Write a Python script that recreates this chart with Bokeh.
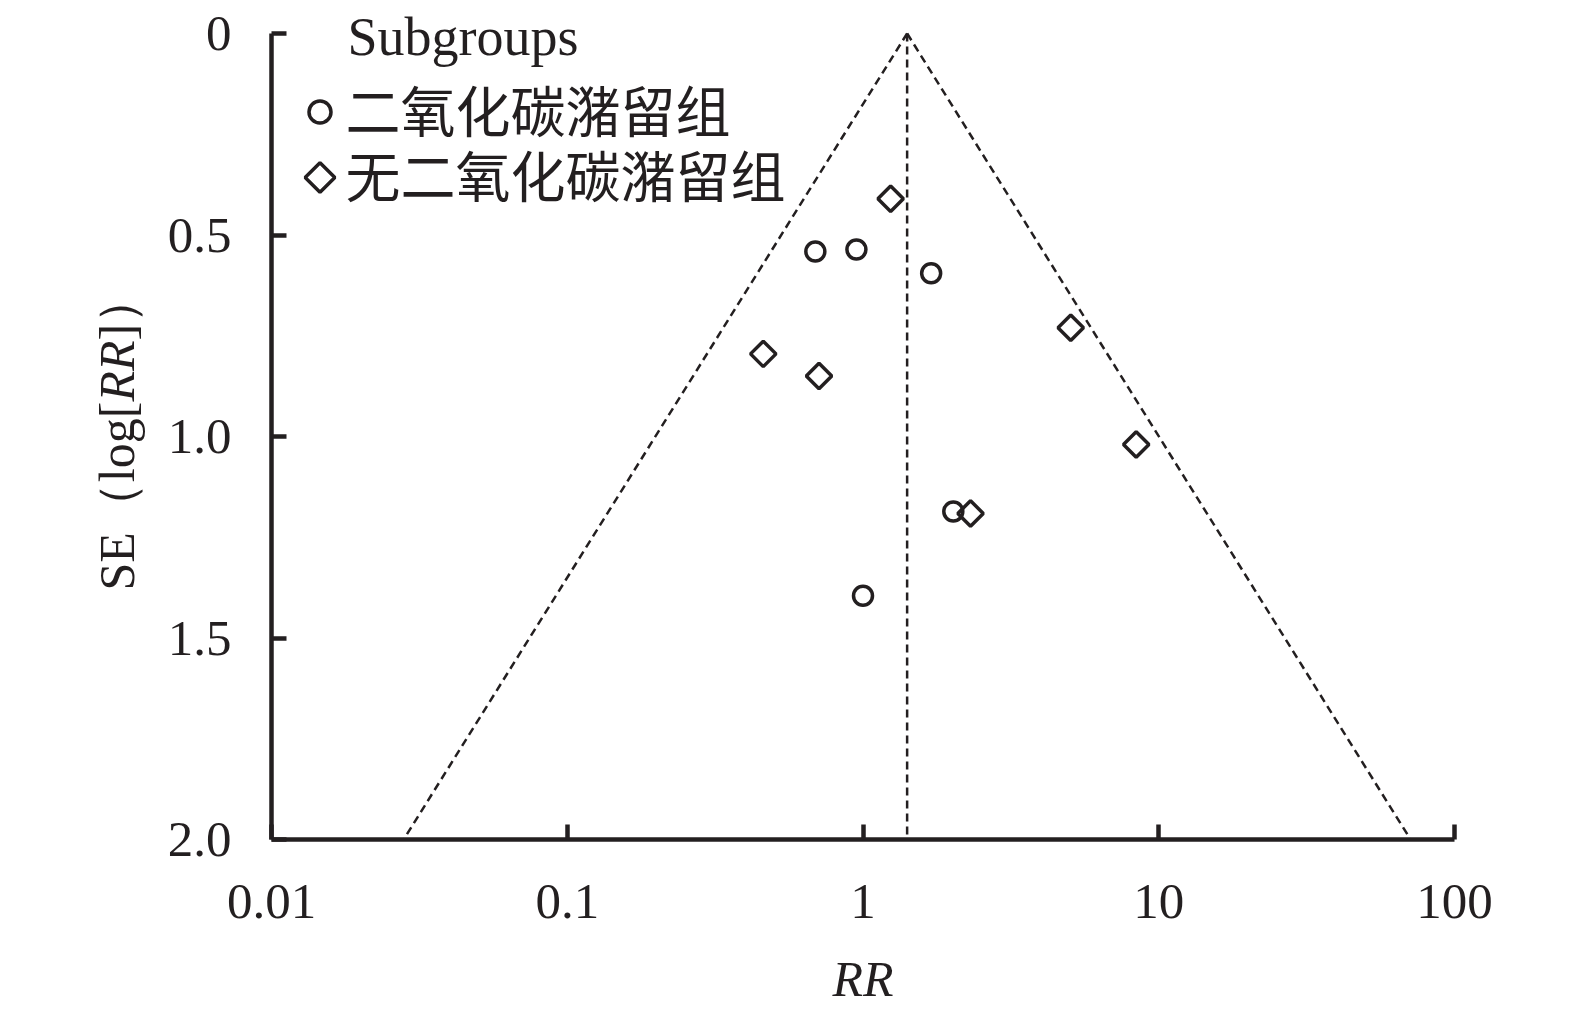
import numpy as np
from bokeh.plotting import figure
from bokeh.models import Range1d, FixedTicker, CustomJSTickFormatter, Label
from bokeh.embed import file_html
from bokeh.resources import INLINE

# ---------------- data ----------------
retention_rr = [0.69, 0.95, 1.70, 2.02, 1.00]
retention_se = [0.541, 0.536, 0.595, 1.186, 1.395]
no_retention_rr = [1.24, 0.46, 0.71, 5.04, 8.39, 2.31]
no_retention_se = [0.41, 0.795, 0.85, 0.73, 1.02, 1.191]
pooled_rr = 1.41
se_max = 2.0

x_ticks = [0.01, 0.1, 1, 10, 100]
x_tick_labels = ["0.01", "0.1", "1", "10", "100"]
y_ticks = [0, 0.5, 1.0, 1.5, 2.0]
y_tick_labels = ["0", "0.5", "1.0", "1.5", "2.0"]
legend_title = "Subgroups"
group_names = ["二氧化碳潴留组", "无二氧化碳潴留组"]
x_title = "RR"
y_title_parts = ["SE（log[", "RR", "]）"]

INK = "#231f20"
SERIF = "Liberation Serif"
CJK = "Noto Sans CJK SC"

W, H = 1570, 1012
# page-pixel layout of the axes box (axis 0.01..100, SE 0..2)
FL, FR, FT, FB = 271.0, 1454.0, 33.0, 839.0
DEC = (FR - FL) / 4.0
SEPX = (FB - FT) / 2.0


def px_to_x(px):
    return 10 ** ((px - FL) / DEC - 2)


def px_to_y(py):
    return (py - FT) / SEPX


# the frame fills the whole canvas so that every text can sit inside it;
# the axes are pinned at RR = 0.01 and SE = 2.0
p = figure(width=W, height=H, x_axis_type="log",
           x_range=Range1d(px_to_x(0), px_to_x(W)),
           y_range=Range1d(px_to_y(H), px_to_y(0)),
           output_backend="svg", toolbar_location=None,
           min_border_left=0, min_border_right=0,
           min_border_top=0, min_border_bottom=0,
           background_fill_color="white", border_fill_color="white")
p.outline_line_color = None
p.xgrid.visible = False
p.ygrid.visible = False

fmt_code = """
let best = 0; let d = Infinity;
for (let i = 0; i < tv.length; i++) {
  const e = Math.abs(%s);
  if (e < d) { d = e; best = i; }
}
return lbls[best];
"""
p.xaxis.ticker = FixedTicker(ticks=x_ticks, minor_ticks=[])
p.xaxis.formatter = CustomJSTickFormatter(
    args=dict(tv=x_ticks, lbls=x_tick_labels),
    code=fmt_code % "Math.log10(tv[i]) - Math.log10(tick)")
p.yaxis.ticker = FixedTicker(ticks=y_ticks, minor_ticks=[])
p.yaxis.formatter = CustomJSTickFormatter(
    args=dict(tv=y_ticks, lbls=y_tick_labels),
    code=fmt_code % "tv[i] - tick")
p.xaxis.fixed_location = se_max
p.xaxis.bounds = (x_ticks[0], x_ticks[-1])
p.yaxis.fixed_location = x_ticks[0]
p.yaxis.bounds = (y_ticks[0], y_ticks[-1])

for ax in (p.xaxis, p.yaxis):
    ax.axis_line_width = 4.5
    ax.axis_line_color = INK
    ax.major_tick_in = 15
    ax.major_tick_out = 0
    ax.major_tick_line_width = 4.5
    ax.major_tick_line_color = INK
    ax.minor_tick_in = 0
    ax.minor_tick_out = 0
    ax.major_label_text_font = SERIF
    ax.major_label_text_font_size = "51px"
    ax.major_label_text_color = INK

p.xaxis.major_label_standoff = 45
p.yaxis.major_label_standoff = 40

# funnel
ln_p = np.log(pooled_rr)
dash = dict(line_color=INK, line_width=2.5, line_dash="8 5")
p.line([pooled_rr, np.exp(ln_p - 1.96 * se_max)], [0, se_max], **dash)
p.line([pooled_rr, np.exp(ln_p + 1.96 * se_max)], [0, se_max], **dash)
p.line([pooled_rr, pooled_rr], [0, se_max], **dash)

circ = dict(marker="circle", fill_color=None, line_color=INK, line_width=3.5)
diam = dict(marker="square", angle=np.pi / 4, fill_color=None,
            line_color=INK, line_width=3.5)
p.scatter(retention_rr, retention_se, size=19, **circ)
p.scatter(no_retention_rr, no_retention_se, size=18, **diam)


def screen_label(px, py, text, **kw):
    p.add_layout(Label(x=px, y=H - py, x_units="screen", y_units="screen",
                       text=text, text_color=INK, **kw))


# legend (drawn by hand so the key is a true diamond)
p.scatter([px_to_x(319.5)], [px_to_y(111.5)], size=22, **circ)
p.scatter([px_to_x(319.5)], [px_to_y(177)], size=21, **diam)
for name, py in zip(group_names, [107.5, 172.5]):
    screen_label(345, py, name, text_font=CJK, text_font_size="55px",
                 text_baseline="middle", text_align="left")
screen_label(347, 36, legend_title, text_font=SERIF, text_font_size="54px",
             text_baseline="middle", text_align="left")

# x axis title
screen_label((FL + FR) / 2, 978, x_title, text_font=SERIF,
             text_font_style="italic", text_font_size="50px",
             text_baseline="middle", text_align="center")

# y axis title in pieces (RR italic)
starts = [590, 401, 340]
styles = ["normal", "italic", "normal"]
for part, st, sty in zip(y_title_parts, starts, styles):
    screen_label(116, st, part, angle=np.pi / 2, text_font=SERIF,
                 text_font_style=sty, text_font_size="50px",
                 text_baseline="middle", text_align="left")

open("out.html", "w").write(file_html(p, INLINE))
